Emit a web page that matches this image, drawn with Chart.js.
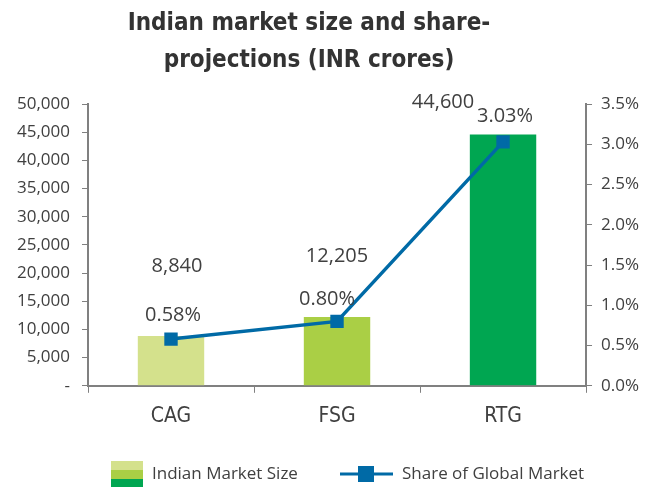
<!DOCTYPE html>
<html>
<head>
<meta charset="utf-8">
<script src="https://cdn.jsdelivr.net/npm/chart.js@4.4.1/dist/chart.umd.min.js"></script>
<style>
  html, body { margin: 0; padding: 0; background: #fff; }
  #wrap { width: 653px; height: 487px; }
</style>
</head>
<body>
<div id="wrap"><canvas id="chart"></canvas></div>
<script>
// data
const categories = ['CAG', 'FSG', 'RTG'];
const marketSize = [8840, 12205, 44600];
const globalShare = [0.58, 0.80, 3.03];
const seriesNames = ['Indian Market Size', 'Share of Global Market'];
const titleLines = ['Indian market size and share-', 'projections (INR crores)'];
const barColors = ['#d4e18c', '#aacf45', '#00a651'];
const lineColor = '#006aa6';
const textColor = '#404040';
const axisColor = '#808080';
const fontFamily = '"Open Sans", sans-serif';
const narrowFamily = '"Liberation Sans Narrow", "DejaVu Sans Condensed", sans-serif';

// label offsets (px) from the bar top / point, to mimic the original placement
const sizeLabelOffsets = [[6, -70], [0, -61], [-60, -32]];
const shareLabelOffsets = [[2, -24], [-10, -22], [2, -26]];

const labelPlugin = {
    id: 'valueLabels',
    afterDatasetsDraw(chart) {
        const ctx = chart.ctx;
        ctx.save();
        ctx.fillStyle = textColor;
        ctx.textAlign = 'center';
        ctx.textBaseline = 'middle';
        ctx.font = '20px ' + fontFamily;
        chart.getDatasetMeta(0).data.forEach((bar, i) => {
            const [dx, dy] = sizeLabelOffsets[i];
            ctx.fillText(marketSize[i].toLocaleString('en-US'), bar.x + dx, bar.y + dy);
        });
        chart.getDatasetMeta(1).data.forEach((pt, i) => {
            const [dx, dy] = shareLabelOffsets[i];
            ctx.fillText(globalShare[i].toFixed(2) + '%', pt.x + dx, pt.y + dy);
        });
        ctx.restore();
    }
};

// title sits a little left of centre in the original, so it is drawn by hand
const titlePlugin = {
    id: 'offsetTitle',
    afterDraw(chart) {
        const ctx = chart.ctx;
        ctx.save();
        ctx.fillStyle = '#333333';
        ctx.font = 'bold 24px "DejaVu Sans Condensed", "Open Sans", sans-serif';
        ctx.textAlign = 'center';
        ctx.textBaseline = 'alphabetic';
        ctx.fillText(titleLines[0], 309, 30);
        ctx.fillText(titleLines[1], 309, 67);
        ctx.restore();
    }
};

// legend drawn by hand: the striped bar swatch and the line+square marker
const legendPlugin = {
    id: 'customLegend',
    afterDraw(chart) {
        const ctx = chart.ctx;
        const y = chart.height - 13;
        ctx.save();
        let x = 111;
        ctx.fillStyle = barColors[0]; ctx.fillRect(x, y - 13, 32, 9);
        ctx.fillStyle = barColors[1]; ctx.fillRect(x, y - 4, 32, 9);
        ctx.fillStyle = barColors[2]; ctx.fillRect(x, y + 5, 32, 8);
        ctx.fillStyle = textColor;
        ctx.font = '17px ' + fontFamily;
        ctx.textBaseline = 'middle';
        ctx.textAlign = 'left';
        ctx.fillText(seriesNames[0], x + 41, y);
        x = 340;
        ctx.strokeStyle = lineColor;
        ctx.lineWidth = 3;
        ctx.beginPath(); ctx.moveTo(x, y); ctx.lineTo(x + 53, y); ctx.stroke();
        ctx.fillStyle = lineColor;
        ctx.fillRect(x + 18, y - 8, 16, 16);
        ctx.fillStyle = textColor;
        ctx.fillText(seriesNames[1], x + 62, y);
        ctx.restore();
    }
};

new Chart(document.getElementById('chart').getContext('2d'), {
    data: {
        labels: categories,
        datasets: [
            {
                type: 'bar',
                label: seriesNames[0],
                data: marketSize,
                backgroundColor: barColors,
                yAxisID: 'y',
                barPercentage: 0.8,
                categoryPercentage: 0.5,
                order: 2
            },
            {
                type: 'line',
                label: seriesNames[1],
                data: globalShare,
                borderColor: lineColor,
                backgroundColor: lineColor,
                borderWidth: 3.5,
                pointStyle: 'rect',
                pointRadius: 7,
                pointHoverRadius: 7,
                yAxisID: 'y1',
                order: 1
            }
        ]
    },
    options: {
        responsive: true,
        maintainAspectRatio: false,
        animation: false,
        layout: { padding: { left: 5, right: 5, top: 104, bottom: 47 } },
        plugins: {
            title: { display: false },
            legend: { display: false },
            tooltip: { enabled: false }
        },
        scales: {
            x: {
                offset: true,
                grid: { display: true, offset: true, drawOnChartArea: false, drawTicks: true, tickLength: 7, color: axisColor, lineWidth: 1 },
                border: { display: true, color: axisColor, width: 2 },
                ticks: { color: textColor, font: { family: narrowFamily, size: 21 }, padding: 11 }
            },
            y: {
                position: 'left',
                min: 0,
                max: 50000,
                grid: { drawOnChartArea: false, drawTicks: true, tickLength: 6, color: axisColor },
                border: { display: true, color: axisColor, width: 2 },
                ticks: {
                    stepSize: 5000,
                    color: textColor,
                    font: { family: fontFamily, size: 17 },
                    padding: 12,
                    callback: v => v === 0 ? '-' : v.toLocaleString('en-US')
                }
            },
            y1: {
                position: 'right',
                min: 0,
                max: 3.5,
                grid: { drawOnChartArea: false, drawTicks: true, tickLength: 6, color: axisColor },
                border: { display: true, color: axisColor, width: 2 },
                ticks: {
                    stepSize: 0.5,
                    color: textColor,
                    font: { family: fontFamily, size: 17 },
                    padding: 9,
                    callback: v => v.toFixed(1) + '%'
                }
            }
        }
    },
    plugins: [labelPlugin, titlePlugin, legendPlugin]
});
</script>
</body>
</html>
